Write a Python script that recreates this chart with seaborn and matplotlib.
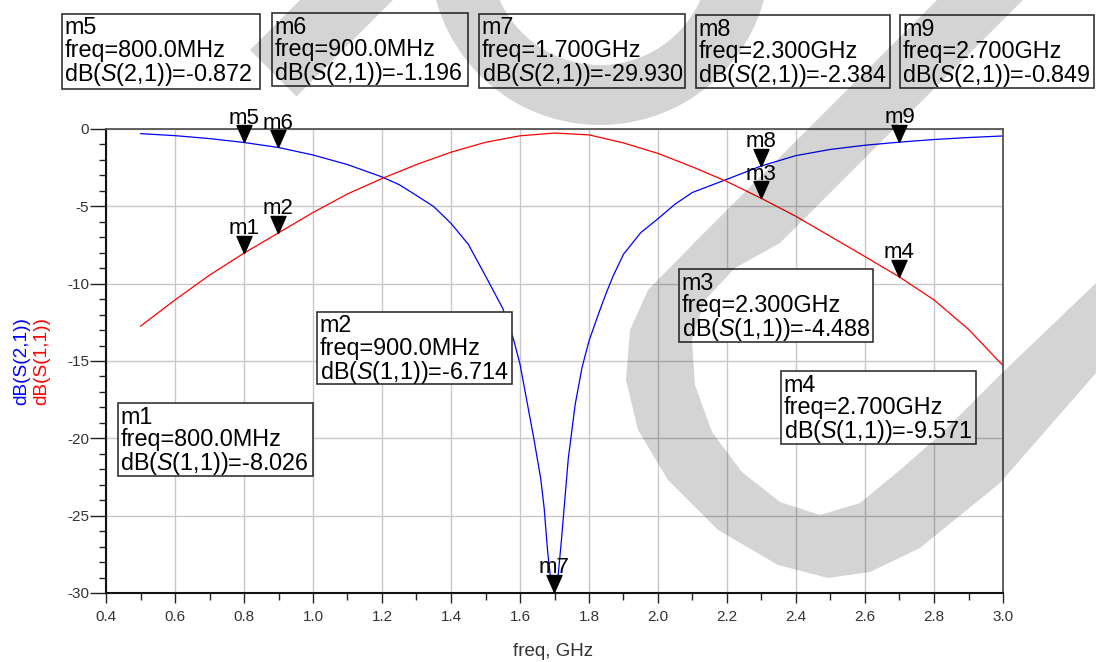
import numpy as np
import matplotlib
matplotlib.use("Agg")
import matplotlib.pyplot as plt
import seaborn as sns
from matplotlib.patches import Polygon, Rectangle
from matplotlib.transforms import Affine2D
from matplotlib.ticker import MultipleLocator

# ---- swept S-parameters (frequency in GHz, magnitude in dB) ----
s21_freq = [0.50, 0.60, 0.70, 0.80, 0.90, 1.00, 1.10, 1.20, 1.25, 1.30, 1.35, 1.40,
            1.45, 1.50, 1.55, 1.58, 1.60, 1.62, 1.64, 1.66, 1.67, 1.68, 1.69, 1.70,
            1.71, 1.72, 1.74, 1.76, 1.78, 1.80, 1.83, 1.85, 1.87, 1.90, 1.95, 2.00,
            2.05, 2.10, 2.20, 2.30, 2.40, 2.50, 2.60, 2.70, 2.80, 2.90, 3.00]
s21_db = [-0.30, -0.43, -0.62, -0.872, -1.196, -1.68, -2.30, -3.10, -3.60, -4.30, -5.02, -6.10,
          -7.45, -9.50, -11.6, -13.5, -15.2, -17.6, -20.0, -22.6, -24.5, -27.3, -29.3, -29.930,
          -29.0, -26.6, -21.3, -17.8, -15.4, -13.7, -11.8, -10.6, -9.5, -8.1, -6.7, -5.8,
          -4.85, -4.10, -3.25, -2.384, -1.72, -1.32, -1.05, -0.849, -0.68, -0.55, -0.45]

s11_freq = [0.5, 0.6, 0.7, 0.8, 0.9, 1.0, 1.1, 1.2, 1.3, 1.4, 1.5, 1.6, 1.7,
            1.8, 1.9, 2.0, 2.1, 2.2, 2.3, 2.4, 2.5, 2.6, 2.7, 2.8, 2.9, 3.0]
s11_db = [-12.75, -11.05, -9.45, -8.026, -6.714, -5.40, -4.20, -3.20, -2.30, -1.50, -0.86, -0.44, -0.26,
          -0.38, -0.90, -1.58, -2.45, -3.40, -4.488, -5.65, -6.95, -8.25, -9.571, -11.05, -12.95, -15.3]

# ---- markers ----
marker_names = ["m1", "m2", "m3", "m4", "m5", "m6", "m7", "m8", "m9"]
marker_trace = ["S(1,1)", "S(1,1)", "S(1,1)", "S(1,1)",
                "S(2,1)", "S(2,1)", "S(2,1)", "S(2,1)", "S(2,1)"]
marker_freq = [0.8, 0.9, 2.3, 2.7, 0.8, 0.9, 1.7, 2.3, 2.7]
marker_db = [-8.026, -6.714, -4.488, -9.571, -0.872, -1.196, -29.930, -2.384, -0.849]

x_ticks = [0.4, 0.6, 0.8, 1.0, 1.2, 1.4, 1.6, 1.8, 2.0, 2.2, 2.4, 2.6, 2.8, 3.0]
y_ticks = [-30, -25, -20, -15, -10, -5, 0]

# readout box placement (left, top, right, bottom) in pixels
box_px = {
    "m5": (62, 14, 260, 89), "m6": (272, 13, 468, 86), "m7": (479, 14, 685, 88),
    "m8": (696, 15, 890, 88), "m9": (900, 15, 1094, 88),
    "m1": (118, 403, 313, 476), "m2": (317, 312, 512, 384),
    "m3": (679, 269, 873, 342), "m4": (781, 371, 976, 444),
}

W, H = 1096, 662

sns.set_theme(style="white")
plt.rcParams["font.family"] = ["Liberation Sans", "DejaVu Sans"]
plt.rcParams["axes.unicode_minus"] = False
plt.rcParams["mathtext.fontset"] = "custom"
plt.rcParams["mathtext.rm"] = "Liberation Sans"
plt.rcParams["mathtext.it"] = "Liberation Sans:italic"

fig = plt.figure(figsize=(W / 100, H / 100), dpi=100, facecolor="white")
L, R, T, B = 106, 1003, 129, 593
ax = fig.add_axes([L / W, 1 - B / H, (R - L) / W, (B - T) / H])
ax.set_facecolor("white")

sns.lineplot(x=s21_freq, y=s21_db, ax=ax, color="#0000ff", lw=0.9, estimator=None, sort=False)
sns.lineplot(x=s11_freq, y=s11_db, ax=ax, color="#ff0000", lw=0.9, estimator=None, sort=False)

ax.set_xlim(0.4, 3.0)
ax.set_ylim(-30, 0)
ax.set_xticks(x_ticks)
ax.set_xticklabels([f"{t:.1f}" for t in x_ticks])
ax.set_yticks(y_ticks)
ax.set_yticklabels([f"{t:d}" for t in y_ticks])
ax.xaxis.set_minor_locator(MultipleLocator(0.1))
ax.yaxis.set_minor_locator(MultipleLocator(1))
ax.grid(True, which="major", color="#c8c8c8", lw=1.0)
ax.set_axisbelow(True)

ax.tick_params(axis="x", which="major", direction="out", length=7.2, width=1.0, color="#222",
               labelsize=11, labelcolor="#333", pad=5, bottom=True)
ax.tick_params(axis="x", which="minor", direction="out", length=5, width=1.0, color="#222", bottom=True)
ax.tick_params(axis="y", which="major", direction="out", length=11.5, width=1.0, color="#222",
               labelsize=11, labelcolor="#333", pad=0.5, left=True)
ax.tick_params(axis="y", which="minor", direction="out", length=5, width=1.0, color="#222", left=True)

for side in ("left", "bottom"):
    ax.spines[side].set_color("#111")
    ax.spines[side].set_linewidth(1.5)
for side in ("top", "right"):
    ax.spines[side].set_color("#555")
    ax.spines[side].set_linewidth(1.3)

# downward triangle with its tip on the marked point
tri = [(0, 0), (-0.44, 1), (0.44, 1), (0, 0)]
for name, f, v in zip(marker_names, marker_freq, marker_db):
    ax.plot([f], [v], marker=tri, ms=24.5, color="black", ls="none", zorder=6, clip_on=False)
    ax.annotate(name, (f, v), xytext=(0, 13.5), textcoords="offset points", ha="center",
                va="baseline", fontsize=16, color="black", zorder=7, annotation_clip=False)

# pixel coordinate transform (origin top-left)
px = Affine2D().scale(1 / W, -1 / H).translate(0, 1) + fig.transFigure


def fmt_freq(f):
    return f"{f * 1000:.1f}MHz" if f < 1 else f"{f:.3f}GHz"


for name, trace, f, v in zip(marker_names, marker_trace, marker_freq, marker_db):
    x0, y0, x1, y1 = box_px[name]
    fig.add_artist(Rectangle((x0, y0), x1 - x0, y1 - y0, transform=px, fc="white",
                             ec="#333", lw=1.2, zorder=20))
    readout = "\n".join([name, f"freq={fmt_freq(f)}",
                         r"dB($\mathit{S}$" + trace[1:] + f")={v:.3f}"])
    fig.text((x0 + 2.5) / W, 1 - (y0 + 2.5) / H, readout, fontsize=16.8, linespacing=0.96,
             ha="left", va="top", color="black", zorder=21)

# axis titles
fig.text(553 / W, 1 - 651 / H, "freq, GHz", fontsize=13.5, color="#333", ha="center", va="center")
fig.text(22 / W, 1 - 361 / H, "dB(S(2,1))", fontsize=13.7, color="#0000ff", rotation=90,
         ha="center", va="center")
fig.text(42 / W, 1 - 361 / H, "dB(S(1,1))", fontsize=13.7, color="#ff0000", rotation=90,
         ha="center", va="center")

# translucent logo watermark drawn over everything
wm = dict(transform=px, fc="black", ec="none", alpha=0.17, zorder=100)
fig.add_artist(Polygon([(320, -20), (413, -20), (296.5, 96.5), (250, 50)], closed=True, **wm))

cx, cy, r_out, r_in = 600, -45, 170, 110
th = np.linspace(-0.2, np.pi + 0.2, 80)
bowl = np.vstack([np.c_[cx + r_out * np.cos(th), cy + r_out * np.sin(th)],
                  np.c_[cx + r_in * np.cos(th[::-1]), cy + r_in * np.sin(th[::-1])]])
fig.add_artist(Polygon(bowl, closed=True, **wm))

hook = [(957, -20), (837, 100), (700, 237), (648, 290), (630, 330), (626, 380), (638, 430),
        (668, 480), (718, 530), (778, 565), (828, 578), (870, 572), (920, 548), (1000, 483),
        (1096, 373), (1200, 290), (1200, 190), (1096, 283), (1000, 375), (940, 435),
        (900, 470), (860, 503), (820, 515), (780, 502), (742, 472), (712, 432), (695, 385),
        (692, 340), (705, 300), (735, 268), (780, 243), (923, 100), (1043, -20)]
fig.add_artist(Polygon(hook, closed=True, **wm))

fig.savefig("out.png", dpi=100, facecolor="white")
